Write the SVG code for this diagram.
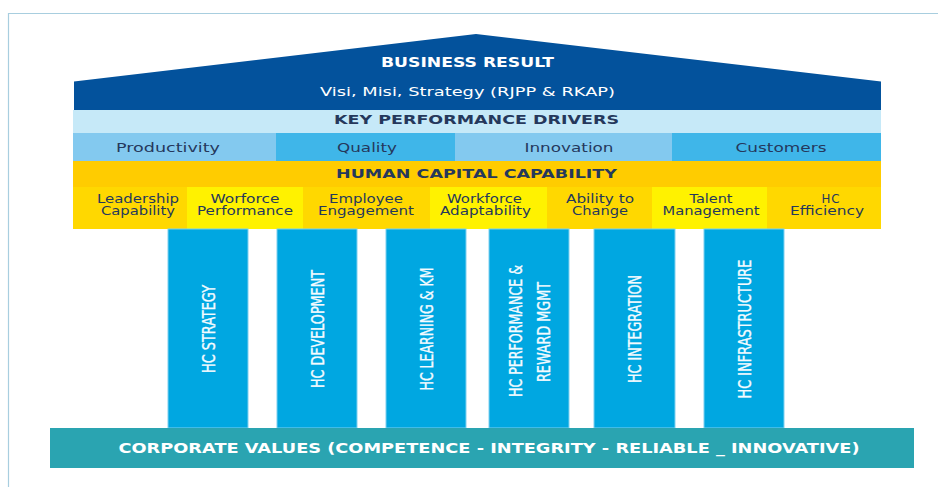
<svg xmlns="http://www.w3.org/2000/svg" width="938" height="487" viewBox="0 0 938 487">
  <style>
    .dark { fill: #25385C; font-family: "DejaVu Sans", "Liberation Sans", sans-serif; }
    .white { fill: #FFFFFF; font-family: "DejaVu Sans", "Liberation Sans", sans-serif; }
    .bold { font-weight: bold; }
    .row { font-size: 13px; }
    .sub { font-size: 11.8px; }
    .pillar { fill: #00A7E1; stroke: #7FD0F0; stroke-width: 1; }
    .ptext { fill: #F4FBFF; stroke: #F4FBFF; stroke-width: 0.35; font-family: "DejaVu Sans Condensed", "DejaVu Sans", sans-serif; font-size: 17px; }
    .lightcell { fill: #83C9EF; }
    .midcell { fill: #3FB6E9; }
    .gold { fill: #FFD800; }
    .lemon { fill: #FFF200; }
  </style>

  <!-- frame lines -->
  <g id="frame" stroke="#A8CEDF" stroke-width="1.2" fill="none">
    <line x1="8" y1="13.5" x2="938" y2="13.5"/>
    <line x1="8.5" y1="13" x2="8.5" y2="487"/>
  </g>

  <!-- roof: business result -->
  <g id="business-result">
    <polygon points="74,81.5 476,34 881,81.5 881,110 74,110" fill="#03529C"/>
    <text class="white bold" x="467.5" y="66.5" font-size="13.5" text-anchor="middle" textLength="173" lengthAdjust="spacingAndGlyphs">BUSINESS RESULT</text>
    <text class="white" x="467.5" y="96" font-size="12.8" text-anchor="middle" textLength="295" lengthAdjust="spacingAndGlyphs">Visi, Misi, Strategy (RJPP &amp; RKAP)</text>
  </g>

  <!-- key performance drivers -->
  <g id="key-performance-drivers">
    <rect x="73" y="110" width="808" height="23" fill="#C6E9F8"/>
    <text class="dark bold" x="476.5" y="124" font-size="13" text-anchor="middle" textLength="285" lengthAdjust="spacingAndGlyphs">KEY PERFORMANCE DRIVERS</text>
  </g>
  <g id="kpd-productivity">
    <rect class="lightcell" x="73" y="133" width="203" height="28"/>
    <text class="dark row" x="168" y="151.5" text-anchor="middle" textLength="104" lengthAdjust="spacingAndGlyphs">Productivity</text>
  </g>
  <g id="kpd-quality">
    <rect class="midcell" x="276" y="133" width="179" height="28"/>
    <text class="dark row" x="367" y="151.5" text-anchor="middle" textLength="60" lengthAdjust="spacingAndGlyphs">Quality</text>
  </g>
  <g id="kpd-innovation">
    <rect class="lightcell" x="455" y="133" width="217" height="28"/>
    <text class="dark row" x="569" y="151.5" text-anchor="middle" textLength="89" lengthAdjust="spacingAndGlyphs">Innovation</text>
  </g>
  <g id="kpd-customers">
    <rect class="midcell" x="672" y="133" width="209" height="28"/>
    <text class="dark row" x="781" y="151.5" text-anchor="middle" textLength="91" lengthAdjust="spacingAndGlyphs">Customers</text>
  </g>

  <!-- human capital capability -->
  <g id="human-capital-capability">
    <rect x="73" y="161" width="808" height="26" fill="#FFCC00"/>
    <text class="dark bold" x="476.5" y="177.5" font-size="13" text-anchor="middle" textLength="281" lengthAdjust="spacingAndGlyphs">HUMAN CAPITAL CAPABILITY</text>
  </g>
  <g id="hcc-leadership">
    <rect class="gold" x="73" y="187" width="114" height="42"/>
    <text class="dark sub" x="138" y="202.7" text-anchor="middle" textLength="82" lengthAdjust="spacingAndGlyphs">Leadership</text>
    <text class="dark sub" x="138" y="215" text-anchor="middle" textLength="74" lengthAdjust="spacingAndGlyphs">Capability</text>
  </g>
  <g id="hcc-worforce">
    <rect class="lemon" x="187" y="187" width="116" height="42"/>
    <text class="dark sub" x="245" y="202.7" text-anchor="middle" textLength="69" lengthAdjust="spacingAndGlyphs">Worforce</text>
    <text class="dark sub" x="245" y="215" text-anchor="middle" textLength="96" lengthAdjust="spacingAndGlyphs">Performance</text>
  </g>
  <g id="hcc-employee">
    <rect class="gold" x="303" y="187" width="127" height="42"/>
    <text class="dark sub" x="366" y="202.7" text-anchor="middle" textLength="74" lengthAdjust="spacingAndGlyphs">Employee</text>
    <text class="dark sub" x="366" y="215" text-anchor="middle" textLength="96" lengthAdjust="spacingAndGlyphs">Engagement</text>
  </g>
  <g id="hcc-workforce">
    <rect class="lemon" x="430" y="187" width="117" height="42"/>
    <text class="dark sub" x="484.5" y="202.7" text-anchor="middle" textLength="75" lengthAdjust="spacingAndGlyphs">Workforce</text>
    <text class="dark sub" x="485.5" y="215" text-anchor="middle" textLength="91" lengthAdjust="spacingAndGlyphs">Adaptability</text>
  </g>
  <g id="hcc-ability">
    <rect class="gold" x="547" y="187" width="105" height="42"/>
    <text class="dark sub" x="600" y="202.7" text-anchor="middle" textLength="68" lengthAdjust="spacingAndGlyphs">Ability to</text>
    <text class="dark sub" x="600" y="215" text-anchor="middle" textLength="56" lengthAdjust="spacingAndGlyphs">Change</text>
  </g>
  <g id="hcc-talent">
    <rect class="lemon" x="652" y="187" width="115" height="42"/>
    <text class="dark sub" x="711" y="202.7" text-anchor="middle" textLength="43" lengthAdjust="spacingAndGlyphs">Talent</text>
    <text class="dark sub" x="711" y="215" text-anchor="middle" textLength="97" lengthAdjust="spacingAndGlyphs">Management</text>
  </g>
  <g id="hcc-efficiency">
    <rect class="gold" x="767" y="187" width="114" height="42"/>
    <text class="dark sub" x="831" y="202.7" text-anchor="middle" letter-spacing="1">HC</text>
    <text class="dark sub" x="827" y="215" text-anchor="middle" textLength="74" lengthAdjust="spacingAndGlyphs">Efficiency</text>
  </g>

  <!-- pillars -->
  <g id="pillar-strategy">
    <rect class="pillar" x="168" y="229" width="80" height="199"/>
    <text class="ptext" transform="translate(208,329) rotate(-90)" x="0" y="6.5" text-anchor="middle" textLength="88" lengthAdjust="spacingAndGlyphs">HC STRATEGY</text>
  </g>
  <g id="pillar-development">
    <rect class="pillar" x="277" y="229" width="80" height="199"/>
    <text class="ptext" transform="translate(317,329) rotate(-90)" x="0" y="6.5" text-anchor="middle" textLength="118" lengthAdjust="spacingAndGlyphs">HC DEVELOPMENT</text>
  </g>
  <g id="pillar-learning">
    <rect class="pillar" x="386" y="229" width="80" height="199"/>
    <text class="ptext" transform="translate(426,329) rotate(-90)" x="0" y="6.5" text-anchor="middle" textLength="123" lengthAdjust="spacingAndGlyphs">HC LEARNING &amp; KM</text>
  </g>
  <g id="pillar-performance">
    <rect class="pillar" x="489" y="229" width="80" height="199"/>
    <text class="ptext" transform="translate(529,331) rotate(-90)" x="0" y="-7.5" text-anchor="middle" textLength="132" lengthAdjust="spacingAndGlyphs">HC PERFORMANCE &amp;</text>
    <text class="ptext" transform="translate(529,332) rotate(-90)" x="0" y="20.5" text-anchor="middle" textLength="100" lengthAdjust="spacingAndGlyphs">REWARD MGMT</text>
  </g>
  <g id="pillar-integration">
    <rect class="pillar" x="594" y="229" width="81" height="199"/>
    <text class="ptext" transform="translate(634,329) rotate(-90)" x="0" y="6.5" text-anchor="middle" textLength="108" lengthAdjust="spacingAndGlyphs">HC INTEGRATION</text>
  </g>
  <g id="pillar-infrastructure">
    <rect class="pillar" x="704" y="229" width="80" height="199"/>
    <text class="ptext" transform="translate(744,329) rotate(-90)" x="0" y="6.5" text-anchor="middle" textLength="139" lengthAdjust="spacingAndGlyphs">HC INFRASTRUCTURE</text>
  </g>

  <!-- foundation -->
  <g id="corporate-values">
    <rect x="50" y="428" width="864" height="40" fill="#2AA4B1"/>
    <text class="white bold" x="489" y="453" font-size="13.5" text-anchor="middle" textLength="741" lengthAdjust="spacingAndGlyphs">CORPORATE VALUES (COMPETENCE - INTEGRITY - RELIABLE _ INNOVATIVE)</text>
  </g>
</svg>
